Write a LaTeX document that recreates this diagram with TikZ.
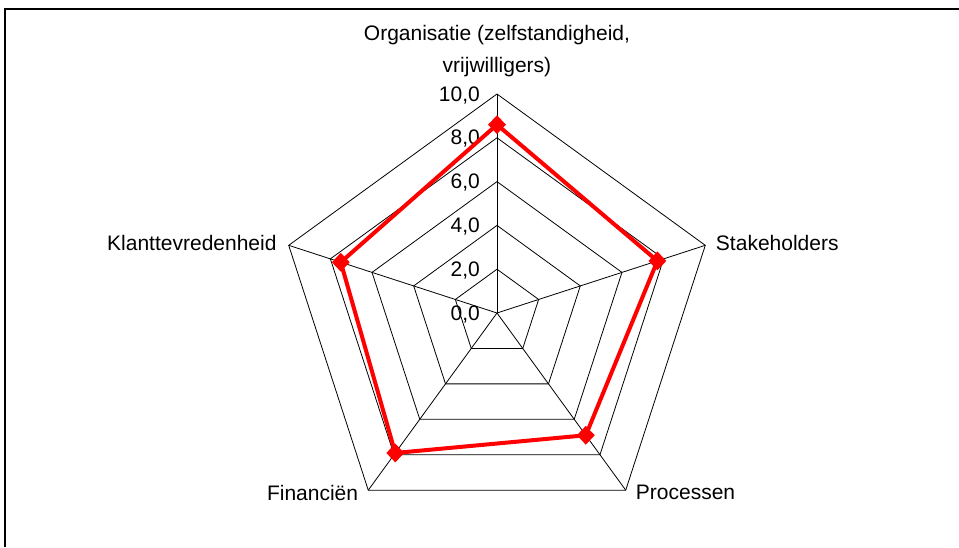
\documentclass[tikz,border=0pt]{standalone}
\usepackage{fontspec}
\setmainfont{Liberation Sans}
\usetikzlibrary{shapes.geometric}
\begin{document}
\begin{tikzpicture}[x=1pt,y=1pt,
		gridline/.style={black,line width=.8pt},
		scoreline/.style={red,line width=4pt,line join=round},
		scoremark/.style={diamond,fill=red,inner sep=0pt,minimum width=18pt,minimum height=19pt},
		every node/.style={font=\fontsize{21}{32}\selectfont,inner sep=0pt}]
	\useasboundingbox (-497,-234) rectangle (462,313);
	\draw[line width=2pt] (-492,-234) -- (-492,304.5) -- (462,304.5);
	\coordinate (centre) at (0,0);
	% rings and spokes
	\foreach \r in {43.8,87.6,131.4,175.2,219}
		\draw[gridline] (90:\r) -- (18:\r) -- (-54:\r) -- (-126:\r) -- (162:\r) -- cycle;
	\foreach \a/\n in {90/org,18/stake,-54/proc,-126/fin,162/klant}{
		\coordinate (\n) at (\a:219);
		\draw[gridline] (centre) -- (\n);
	}
	% scale
	\foreach \v in {0,2,...,10}
		\node[anchor=base east] (tick\v) at (-17,21.9*\v-7)
			{\v,0};
	% axis labels
	\node[anchor=south,align=center] (orglabel) at (0,236)
		{Organisatie (zelfstandigheid,\\vrijwilligers)};
	\node[anchor=west] (stakelabel) at ([xshift=10.5pt,yshift=2.6pt]stake)
		{Stakeholders};
	\node[anchor=west] (proclabel) at ([xshift=10pt,yshift=-2.5pt]proc)
		{Processen};
	\node[anchor=east] (finlabel) at ([xshift=-10pt,yshift=-2.5pt]fin)
		{Financiën};
	\node[anchor=east] (klantlabel) at ([xshift=-12pt,yshift=2.6pt]klant)
		{Klanttevredenheid};
	% scores
	\foreach \a/\s/\n in {90/8.6/0,18/7.7/1,-54/6.9/2,-126/7.9/3,162/7.5/4}
		\coordinate (score\n) at (\a:{21.9*\s});
	\draw[scoreline] (score0) -- (score1) -- (score2) -- (score3) -- (score4) -- cycle;
	\foreach \n in {0,...,4}
		\node[scoremark] (mark\n) at (score\n) {};
\end{tikzpicture}
\end{document}
